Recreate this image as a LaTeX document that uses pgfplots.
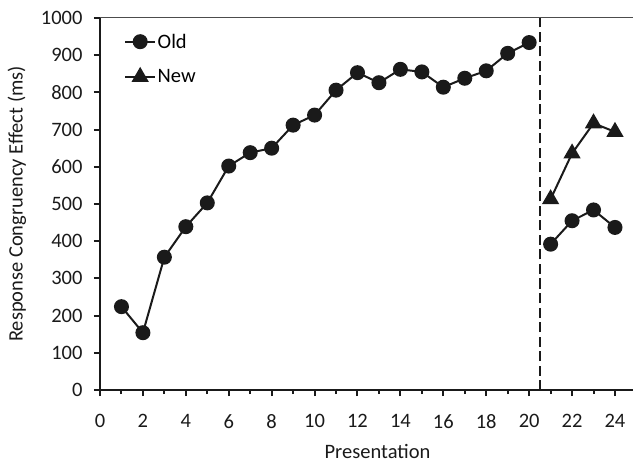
\documentclass[border=0pt]{standalone}
\usepackage{fontspec}
\setmainfont{Carlito}
\usepackage{pgfplots}
\pgfplotsset{compat=1.18}
\definecolor{ink}{HTML}{1A1A1A}
\begin{document}
\begin{tikzpicture}[font=\fontsize{20.5bp}{24bp}\selectfont]
\begin{axis}[
  at={(0,0)}, anchor=south west,
  scale only axis, width=533bp, height=372bp,
  xmin=0, xmax=24.84, ymin=0, ymax=1000,
  axis x line*=bottom, axis y line*=left,
  axis line style={line width=2.5bp, color=ink, -},
  xtick={0,2,...,24}, minor xtick={1,3,...,23},
  ytick={0,100,...,1000},
  tick align=outside,
  major tick length=6bp, minor tick length=4bp,
  every tick/.style={line width=2bp, color=ink},
  /pgf/number format/assume math mode=true,
  /pgf/number format/1000 sep={},
  ticklabel style={color=ink},
  xticklabel style={yshift=-15bp},
  yticklabel style={xshift=-8bp},
  xlabel={Presentation},
  ylabel={Response Congruency Effect (ms)},
  xlabel style={color=ink, xshift=11bp, yshift=-9bp},
  ylabel style={color=ink, yshift=8bp},
  clip=false,
  unbounded coords=jump,
  legend cell align=left,
  legend style={at={(0.045,0.962)}, anchor=north west, draw=none, fill=none,
    inner sep=0pt, row sep=17bp, nodes={inner sep=1.5bp}},
  legend image code/.code={\draw[mark repeat=2,mark phase=2,#1] plot coordinates {(0bp,0bp) (15bp,0bp) (30bp,0bp)};},
]
\draw[color=gray!60!black, line width=1bp] (axis cs:0,1000) -- (axis cs:24.84,1000);
\draw[color=ink, line width=2bp, dash pattern=on 10bp off 4.5bp] (axis cs:20.5,0) -- (axis cs:20.5,1000);
\addplot[color=ink, line width=2bp, mark=*, mark size=6.5bp, mark options={solid}] coordinates {
 (1,224) (2,154) (3,357) (4,439) (5,503) (6,602) (7,638) (8,650) (9,712) (10,739)
 (11,806) (12,853) (13,826) (14,862) (15,855) (16,814) (17,838) (18,858) (19,905) (20,934)
 (20.5,nan)
 (21,392) (22,455) (23,484) (24,437)};
\addlegendentry{Old}
\addplot[color=ink, line width=2bp, mark=triangle*, mark size=8bp, mark options={solid}] coordinates {
 (21,513) (22,636) (23,717) (24,694)};
\addlegendentry{New}
\end{axis}
\pgfresetboundingbox
\path[use as bounding box] (-100bp,-75bp) rectangle (533bp,390bp);
\end{tikzpicture}
\end{document}
